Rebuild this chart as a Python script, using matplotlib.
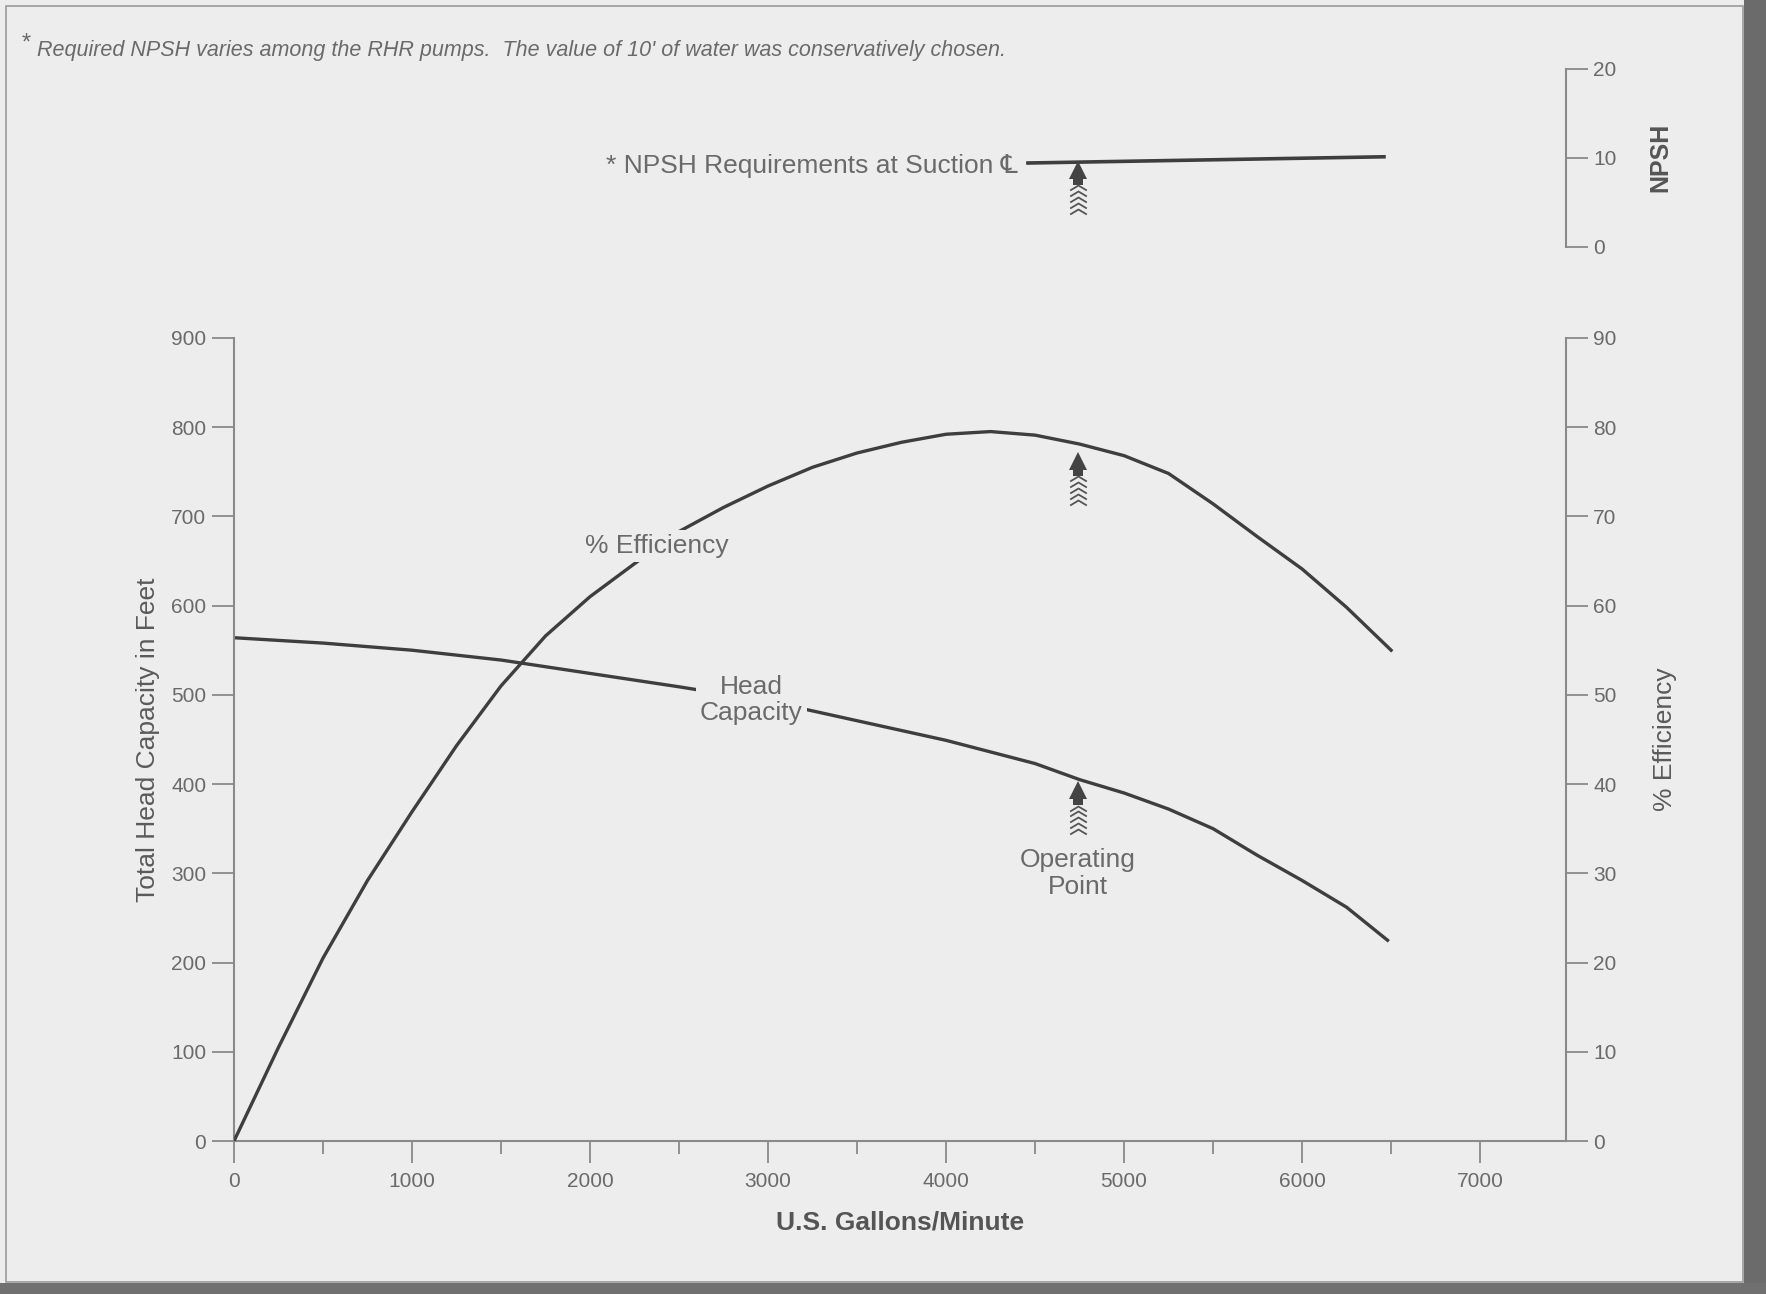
import numpy as np
import matplotlib.pyplot as plt
from matplotlib.patches import Rectangle
from matplotlib.path import Path
import matplotlib.transforms as mtransforms

plt.rcParams["font.family"] = ["Liberation Sans Narrow", "Liberation Sans", "DejaVu Sans"]

# ------------------------------------------------------------
# Data
# ------------------------------------------------------------
eff_gpm = [0, 250, 500, 750, 1000, 1250, 1500, 1750, 2000, 2250,
           2500, 2750, 3000, 3250, 3500, 3750, 4000, 4250, 4500, 4750,
           5000, 5250, 5500, 5750, 6000, 6250, 6500]
eff_pct = [0, 10.5, 20.5, 29.2, 36.9, 44.3, 51.0, 56.6, 61.0, 64.7,
           68.3, 71.0, 73.4, 75.5, 77.1, 78.3, 79.2, 79.5, 79.1, 78.1,
           76.8, 74.8, 71.4, 67.7, 64.1, 59.8, 55.0]

head_gpm = [0, 500, 1000, 1500, 2000, 2500, 3000, 3500, 4000, 4500,
            4750, 5000, 5250, 5500, 5750, 6000, 6250, 6480]
head_ft = [564, 558, 550, 539, 524, 509, 493, 471, 449, 423,
           405, 390, 372, 350, 320, 292, 262, 225]

npsh_gpm = [4460, 6460]
npsh_ft = [9.4, 10.1]

operating_gpm = 4740
arrow_eff = 76.2      # % efficiency at arrow tip
arrow_head = 393      # ft at arrow tip
arrow_npsh = 8.6      # ft NPSH at arrow tip

x_ticks = [0, 1000, 2000, 3000, 4000, 5000, 6000, 7000]
head_ticks = [0, 100, 200, 300, 400, 500, 600, 700, 800, 900]
eff_ticks = [0, 10, 20, 30, 40, 50, 60, 70, 80, 90]
npsh_ticks = [0, 10, 20]

bg = "#ededed"
line_c = "#3e3e3e"
axis_c = "#8a8a8a"
text_c = "#6a6a6a"

fig = plt.figure(figsize=(17.66, 12.94), dpi=100, facecolor=bg)

# frame of the scanned page
fig.patches.append(Rectangle((6 / 1766, 1 - 1282 / 1294), 1737 / 1766, 1276 / 1294,
                             transform=fig.transFigure, fill=False,
                             edgecolor="#9a9a9a", linewidth=1.2))
fig.patches.append(Rectangle((1744 / 1766, 0), 22 / 1766, 1,
                             transform=fig.transFigure, facecolor="#6b6b6b",
                             edgecolor="none"))
fig.patches.append(Rectangle((0, 0), 1, 11 / 1294,
                             transform=fig.transFigure, facecolor="#707070",
                             edgecolor="none"))

# ------------------------------------------------------------
# Main axes: head capacity (left) and efficiency (right)
# ------------------------------------------------------------
ax = fig.add_axes([0.1325, 0.1182, 0.754, 0.6207])
ax.set_facecolor("none")
ax.set_xlim(0, 7480)
ax.set_ylim(0, 900)

for side in ["top", "right"]:
    ax.spines[side].set_visible(False)
for side in ["left", "bottom"]:
    ax.spines[side].set_color(axis_c)
    ax.spines[side].set_linewidth(1.5)

ax.set_xticks(x_ticks)
ax.set_xticks(np.arange(500, 7500, 1000), minor=True)
ax.set_yticks(head_ticks)
ax.tick_params(axis="x", which="major", length=16, width=1.3, color=axis_c,
               labelsize=15, labelcolor=text_c, pad=6)
ax.tick_params(axis="x", which="minor", length=9, width=1.3, color=axis_c)
ax.tick_params(axis="y", length=16, width=1.3, color=axis_c,
               labelsize=15, labelcolor=text_c, pad=4)

ax.set_xlabel("U.S. Gallons/Minute", fontsize=19, fontweight="bold",
              color="#555555", labelpad=14)
ax.set_ylabel("Total Head Capacity in Feet", fontsize=19, color="#5a5a5a",
              labelpad=8)

ax.plot(head_gpm, head_ft, color=line_c, linewidth=2.4,
        solid_joinstyle="round", zorder=2)

ax2 = ax.twinx()
ax2.set_ylim(0, 90)
for side in ["top", "left", "bottom"]:
    ax2.spines[side].set_visible(False)
ax2.spines["right"].set_color(axis_c)
ax2.spines["right"].set_linewidth(1.5)
ax2.set_yticks(eff_ticks)
ax2.tick_params(axis="y", length=16, width=1.3, color=axis_c,
                labelsize=15, labelcolor=text_c, pad=4)
ax2.set_ylabel("% Efficiency", fontsize=19, color="#5a5a5a", rotation=90)
ax2.yaxis.set_label_coords(1.066, 0.5)

ax2.plot(eff_gpm, eff_pct, color=line_c, linewidth=2.4,
         solid_joinstyle="round", zorder=2)

# curve labels (background box hides the line behind them)
box = dict(boxstyle="square,pad=0.15", facecolor=bg, edgecolor="none")
ax2.text(2373, 66.7, "% Efficiency", fontsize=19, color=text_c,
         ha="center", va="center", bbox=box, zorder=3)
ax.text(2905, 494, "Head\nCapacity", fontsize=19, color=text_c,
        ha="center", va="center", linespacing=1.1, bbox=box, zorder=3)
ax.text(operating_gpm, 300, "Operating\nPoint", fontsize=19, color=text_c,
        ha="center", va="center", linespacing=1.15, zorder=3)

# ------------------------------------------------------------
# NPSH axes
# ------------------------------------------------------------
ax3 = fig.add_axes([0.1325, 0.8094, 0.754, 0.1375])
ax3.set_facecolor("none")
ax3.set_xlim(0, 7480)
ax3.set_ylim(0, 20)
for side in ["top", "left", "bottom"]:
    ax3.spines[side].set_visible(False)
ax3.spines["right"].set_color(axis_c)
ax3.spines["right"].set_linewidth(1.5)
ax3.set_xticks([])
ax3.yaxis.tick_right()
ax3.set_yticks(npsh_ticks)
ax3.tick_params(axis="y", length=16, width=1.3, color=axis_c,
                labelsize=15, labelcolor=text_c, pad=4)
ax3.yaxis.set_label_position("right")
ax3.set_ylabel("NPSH", fontsize=18, fontweight="bold", color="#555555",
               rotation=90)
ax3.yaxis.set_label_coords(1.062, 0.5)

ax3.plot(npsh_gpm, npsh_ft, color=line_c, linewidth=2.6)
ax3.text(4400, 9.1, "* NPSH Requirements at Suction \u2104", fontsize=19,
         color=text_c, ha="right", va="center",
         family=["Liberation Sans Narrow", "Liberation Sans", "DejaVu Sans"])

fig.text(0.0125, 0.966, "*", fontsize=17, color=text_c, va="center")
fig.text(0.021, 0.961, "Required NPSH varies among the RHR pumps.  "
         "The value of 10' of water was conservatively chosen.",
         fontsize=15.5, style="italic", color=text_c, va="center")


# ------------------------------------------------------------
# operating point arrows: filled head plus stacked chevrons
# ------------------------------------------------------------
chevron = Path([(-1.0, -0.6), (0.0, 0.0), (1.0, -0.6)],
               [Path.MOVETO, Path.LINETO, Path.LINETO])


def draw_arrow(axis, x, y):
    axis.plot([x], [y], marker="^", markersize=13, color="#444444",
              markeredgewidth=0, zorder=4)
    shaft = mtransforms.offset_copy(axis.transData, fig=fig, x=0, y=-7,
                                    units="points")
    axis.plot([x], [y], marker="s", markersize=7, color="#444444",
              markeredgewidth=0, transform=shaft, zorder=4)
    for k in range(5):
        tr = mtransforms.offset_copy(axis.transData, fig=fig, x=0,
                                     y=-11 - 4.2 * k, units="points")
        axis.plot([x], [y], marker=chevron, markersize=12,
                  markerfacecolor="none", markeredgecolor="#555555",
                  markeredgewidth=1.3, transform=tr, zorder=4)


draw_arrow(ax2, operating_gpm, arrow_eff)
draw_arrow(ax, operating_gpm, arrow_head)
draw_arrow(ax3, operating_gpm, arrow_npsh)

fig.savefig("out.png", dpi=100, facecolor=bg)
